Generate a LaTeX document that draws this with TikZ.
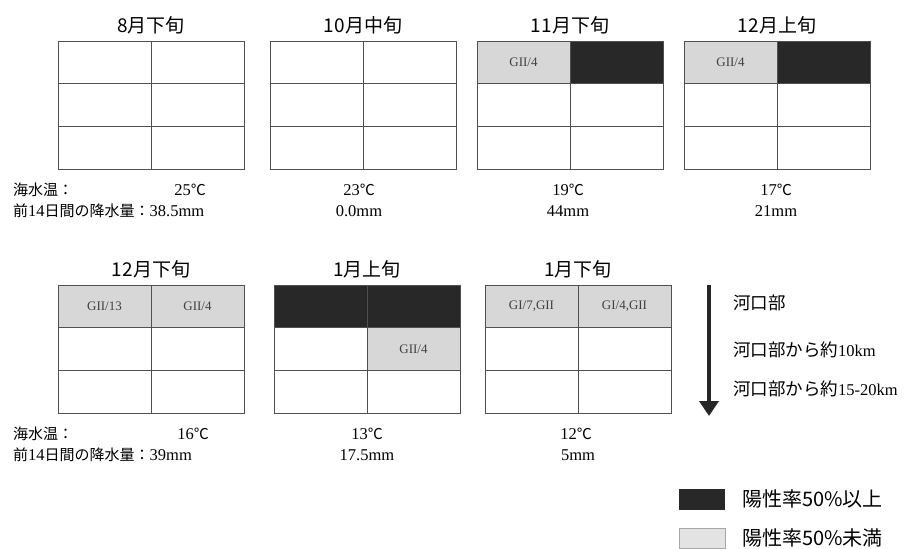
\documentclass[tikz,border=0pt]{standalone}
\usepackage{fontspec}
\setmainfont{Liberation Serif}
\newfontfamily\jp{Noto Sans CJK JP}
\usetikzlibrary{positioning,arrows.meta}
\definecolor{darkcell}{RGB}{40,40,40}
\definecolor{lightcell}{RGB}{215,215,215}
\definecolor{gridline}{RGB}{80,80,80}

\begin{document}
\begin{tikzpicture}[x=1pt, y=-1pt,
  title/.style={font=\jp\fontsize{19}{19}\selectfont},
  info/.style={font=\jp\fontsize{15}{15}\selectfont, anchor=west, inner sep=0pt},
  val/.style={font=\fontsize{16.5}{16.5}\selectfont, inner sep=0pt},
  lbl/.style={font=\fontsize{13}{13}\selectfont, text=black!75},
  side/.style={font=\jp\fontsize{17.5}{17.5}\selectfont, anchor=west, inner sep=0pt},
  legend/.style={font=\jp\fontsize{20}{20}\selectfont, anchor=west, inner sep=0pt},
  poscell/.style={fill=darkcell},
  negcell/.style={fill=lightcell}]
\useasboundingbox (0,0) rectangle (908,549);
% 2 x 3 grid: {left}{top}{name}{title}
\newcommand{\mygrid}[4]{%
  \draw[gridline, thick] (#1,#2) rectangle (#1+186,#2+128);
  \draw[gridline, thick] (#1+93,#2) -- (#1+93,#2+128);
  \foreach \r in {1,2}
    \draw[gridline, thick] (#1,#2+\r*42.67) -- (#1+186,#2+\r*42.67);
  \node[title] (#3) at (#1+93,#2-16) {#4};
}
% one cell: {left}{top}{col}{row}{style}{name}{text}
\newcommand{\mycell}[7]{%
  \fill[#5] (#1+#3*93,#2+#4*42.67) rectangle ++(93,42.67);
  \node[lbl] (#6) at (#1+#3*93+46.5,#2+#4*42.67+21.3) {#7};
}
\newcommand{\degc}{{\jp\fontsize{15}{15}\selectfont ℃}}
\newcommand{\lat}[1]{{\rmfamily\fontsize{16.5}{16.5}\selectfont #1}}

% top row
\mycell{477}{41}{0}{0}{negcell}{nov1}{GII/4}
\mycell{477}{41}{1}{0}{poscell}{nov2}{}
\mycell{684}{41}{0}{0}{negcell}{dec1}{GII/4}
\mycell{684}{41}{1}{0}{poscell}{dec2}{}
\mygrid{58}{41}{aug}{8月下旬}
\mygrid{270}{41}{oct}{10月中旬}
\mygrid{477}{41}{nov}{11月下旬}
\mygrid{684}{41}{dec}{12月上旬}

% bottom row
\mycell{58}{285}{0}{0}{negcell}{dcl1}{GII/13}
\mycell{58}{285}{1}{0}{negcell}{dcl2}{GII/4}
\fill[poscell] (274,285) rectangle ++(186,42.67);
\mycell{274}{285}{1}{1}{negcell}{jan2}{GII/4}
\mycell{485}{285}{0}{0}{negcell}{jnl1}{GI/7,GII}
\mycell{485}{285}{1}{0}{negcell}{jnl2}{GI/4,GII}
\mygrid{58}{285}{decl}{12月下旬}
\mygrid{274}{285}{jan}{1月上旬}
\mygrid{485}{285}{janl}{1月下旬}

% temperature and rainfall
\node[info] (sst1) at (13,190) {海水温：};
\node[info] (rain1) at (13,211) {前\lat{14}日間の降水量：\lat{38.5mm}};
\node[val] (t1) at (190,190) {25\degc};
\node[val] (t2) at (359,190) {23\degc};
\node[val] (r2) at (359,211) {0.0mm};
\node[val] (t3) at (568,190) {19\degc};
\node[val] (r3) at (568,211) {44mm};
\node[val] (t4) at (776,190) {17\degc};
\node[val] (r4) at (776,211) {21mm};
\node[info] (sst2) at (13,434) {海水温：};
\node[info] (rain2) at (13,455) {前\lat{14}日間の降水量：\lat{39mm}};
\node[val] (t5) at (193,434) {16\degc};
\node[val] (t6) at (367,434) {13\degc};
\node[val] (r6) at (367,455) {17.5mm};
\node[val] (t7) at (576,434) {12\degc};
\node[val] (r7) at (578,455) {5mm};

% distance arrow
\coordinate (mouth) at (709,285);
\coordinate (far) at (709,416);
\draw[line width=4.5pt, draw=black!85, -{Triangle[length=15pt, width=19pt]}] (mouth) -- (far);
\node[side] (d1) at (733,303) {河口部};
\node[side] (d2) at (733,350) {河口部から約\lat{10km}};
\node[side] (d3) at (733,389) {河口部から約\lat{15-20km}};

% legend
\fill[darkcell] (679,489) rectangle (725,510);
\node[legend] (k1) at (742,499) {陽性率50\%以上};
\draw[gridline!50, fill=lightcell!70] (679,528) rectangle (725,548);
\node[legend] (k2) at (742,538) {陽性率50\%未満};
\end{tikzpicture}
\end{document}
